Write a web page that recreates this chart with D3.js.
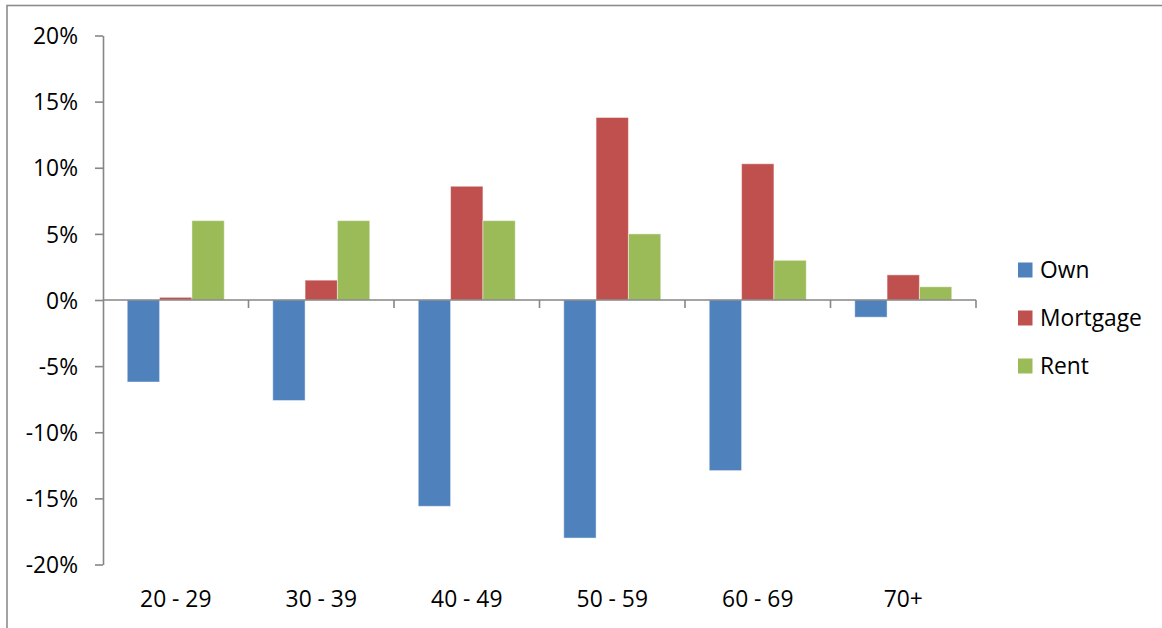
<!DOCTYPE html>
<html>
<head>
<meta charset="utf-8">
<script src="https://cdn.jsdelivr.net/npm/d3@7"></script>
<style>
  html, body { margin: 0; padding: 0; background: #fff; }
  svg { display: block; }
  text { font-family: "Open Sans", Lato, sans-serif; fill: #000; }
</style>
</head>
<body>
<script>
// change in share of households by age group (percent)
const categories = ["20 - 29", "30 - 39", "40 - 49", "50 - 59", "60 - 69", "70+"];
const series = ["Own", "Mortgage", "Rent"];
const ownValues = [-6.2, -7.6, -15.6, -18.0, -12.9, -1.3];
const mortgageValues = [0.2, 1.5, 8.6, 13.8, 10.3, 1.9];
const rentValues = [6.0, 6.0, 6.0, 5.0, 3.0, 1.0];
const yTicks = [-20, -15, -10, -5, 0, 5, 10, 15, 20];

const colors = { Own: "#4f81bd", Mortgage: "#c0504d", Rent: "#9bbb59" };
const valuesBySeries = { Own: ownValues, Mortgage: mortgageValues, Rent: rentValues };

const width = 1162, height = 628;
const plot = { left: 103, right: 976, top: 35.5, bottom: 564.5 };
const fontSize = "22.8px";

const svg = d3.select("body").append("svg")
    .attr("width", width)
    .attr("height", height);

// outer chart frame (only top and left edges show in the window)
svg.append("rect")
    .attr("x", 7)
    .attr("y", 5.5)
    .attr("width", width + 20)
    .attr("height", height + 20)
    .attr("fill", "none")
    .attr("stroke", "#8c8c8c")
    .attr("stroke-width", 1.6);

const y = d3.scaleLinear()
    .domain([-20, 20])
    .range([plot.bottom, plot.top]);

const x0 = d3.scaleBand()
    .domain(categories)
    .range([plot.left, plot.right])
    .padding(0);

const x1 = d3.scaleBand()
    .domain(series)
    .range([0, x0.bandwidth()])
    .paddingInner(0)
    .paddingOuter(0.75);

// one row per bar
const bars = [];
categories.forEach((c, i) => {
    series.forEach(s => bars.push({ cat: c, series: s, value: valuesBySeries[s][i] }));
});

svg.append("g")
    .selectAll("rect")
    .data(bars)
    .enter().append("rect")
    .attr("x", d => x0(d.cat) + x1(d.series))
    .attr("width", x1.bandwidth())
    .attr("y", d => y(Math.max(0, d.value)))
    .attr("height", d => Math.abs(y(d.value) - y(0)))
    .attr("fill", d => colors[d.series])
    .attr("stroke", "rgba(255,255,255,0.45)")
    .attr("stroke-width", 1);

// y axis
const yAxis = svg.append("g")
    .attr("transform", `translate(${plot.left},0)`)
    .call(d3.axisLeft(y)
        .tickValues(yTicks)
        .tickFormat(d => d + "%")
        .tickSizeInner(8)
        .tickSizeOuter(0)
        .tickPadding(17));
yAxis.selectAll("path, line").attr("stroke", "#868686").attr("stroke-width", 1.6);
yAxis.selectAll("text").style("font-size", fontSize).attr("dy", "0.36em");

// zero line with category boundary ticks
const zero = svg.append("g");
zero.append("line")
    .attr("x1", plot.left).attr("x2", plot.right)
    .attr("y1", y(0)).attr("y2", y(0))
    .attr("stroke", "#868686").attr("stroke-width", 1.6);
const bounds = categories.slice(1).map(c => x0(c)).concat([plot.right]);
zero.selectAll("line.tick")
    .data(bounds)
    .enter().append("line")
    .attr("class", "tick")
    .attr("x1", d => d).attr("x2", d => d)
    .attr("y1", y(0)).attr("y2", y(0) + 8)
    .attr("stroke", "#868686").attr("stroke-width", 1.6);

// category labels under the plot
const xAxis = svg.append("g")
    .attr("transform", `translate(0,${plot.bottom})`)
    .call(d3.axisBottom(x0).tickSize(0).tickPadding(34));
xAxis.select(".domain").remove();
xAxis.selectAll("text").style("font-size", fontSize).attr("dy", "0.36em");

// legend
const legend = svg.append("g")
    .attr("transform", "translate(1018,270)");
const item = legend.selectAll("g")
    .data(series)
    .enter().append("g")
    .attr("transform", (d, i) => `translate(0,${i * 48})`);
item.append("rect")
    .attr("x", 0).attr("y", -7.5)
    .attr("width", 14.5).attr("height", 15)
    .attr("fill", d => colors[d]);
item.append("text")
    .attr("x", 22)
    .attr("dy", "0.36em")
    .style("font-size", fontSize)
    .text(d => d);
</script>
</body>
</html>
